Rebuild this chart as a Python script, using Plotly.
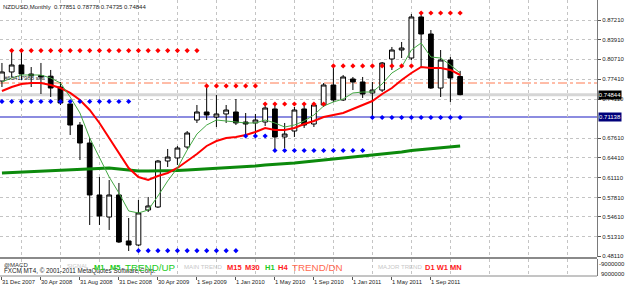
import plotly.graph_objects as go

# ---------------- data ----------------
symbol_title = "NZDUSD,Monthly"
bars = list(range(48))

opens = [0.7710, 0.7860, 0.7976, 0.7826, 0.7800, 0.7790, 0.7611, 0.7330, 0.6981, 0.6683,
         0.5822, 0.5457, 0.5822, 0.5060, 0.4993, 0.5573, 0.5623, 0.6385, 0.6435, 0.6617,
         0.7064, 0.7197, 0.7114, 0.7164, 0.7197, 0.7031, 0.7015, 0.7031, 0.7247, 0.6783,
         0.6882, 0.7247, 0.6998, 0.7313, 0.7644, 0.7396, 0.7744, 0.7694, 0.7512, 0.7561,
         0.8075, 0.8224, 0.8091, 0.8771, 0.8489, 0.7594, 0.8058, 0.77851]
highs = [0.8009, 0.8207, 0.8215, 0.7942, 0.8009, 0.7893, 0.7694, 0.7396, 0.7031, 0.6766,
         0.6120, 0.6070, 0.6021, 0.5441, 0.5739, 0.5789, 0.6402, 0.6584, 0.6634, 0.6882,
         0.7313, 0.7628, 0.7478, 0.7313, 0.7412, 0.7180, 0.7164, 0.7329, 0.7346, 0.7015,
         0.7280, 0.7346, 0.7346, 0.7677, 0.7976, 0.7810, 0.7777, 0.7777, 0.7694, 0.8025,
         0.8274, 0.8357, 0.8820, 0.8837, 0.8555, 0.8224, 0.8108, 0.78778]
lows = [0.7611, 0.7777, 0.7727, 0.7611, 0.7495, 0.7445, 0.7313, 0.6816, 0.6402, 0.5325,
        0.5325, 0.5242, 0.5027, 0.4894, 0.4977, 0.5540, 0.5607, 0.6286, 0.6319, 0.6584,
        0.7015, 0.7064, 0.6948, 0.7015, 0.6981, 0.6799, 0.6832, 0.6965, 0.6567, 0.6600,
        0.6783, 0.6932, 0.6948, 0.7280, 0.7363, 0.7379, 0.7561, 0.7429, 0.7097, 0.7528,
        0.7893, 0.8091, 0.8058, 0.7942, 0.7578, 0.7445, 0.7363, 0.74735]
closes = [0.7860, 0.7976, 0.7826, 0.7800, 0.7777, 0.7594, 0.7346, 0.6981, 0.6683, 0.5822,
          0.5474, 0.5822, 0.5043, 0.4993, 0.5524, 0.5640, 0.6385, 0.6451, 0.6600, 0.6849,
          0.7197, 0.7147, 0.7164, 0.7230, 0.7015, 0.6998, 0.7064, 0.7263, 0.6783, 0.6832,
          0.7230, 0.6981, 0.7313, 0.7644, 0.7396, 0.7777, 0.7694, 0.7495, 0.7561, 0.8009,
          0.8224, 0.8257, 0.8771, 0.8489, 0.7594, 0.8058, 0.7760, 0.74844]

ma_red = [0.7545, 0.7611, 0.7661, 0.7677, 0.7677, 0.7644, 0.7594, 0.7512, 0.7396, 0.7230,
          0.7015, 0.6766, 0.6534, 0.6269, 0.6120, 0.6070, 0.6137, 0.6186, 0.6269, 0.6385,
          0.6501, 0.6634, 0.6716, 0.6766, 0.6783, 0.6816, 0.6865, 0.6932, 0.6899, 0.6899,
          0.6932, 0.6998, 0.7048, 0.7114, 0.7147, 0.7180, 0.7247, 0.7313, 0.7379, 0.7495,
          0.7594, 0.7727, 0.7843, 0.7942, 0.7926, 0.7926, 0.7893, 0.7810]
ma_green = [0.7694, 0.7760, 0.7810, 0.7810, 0.7810, 0.7760, 0.7677, 0.7445, 0.7180, 0.6766,
            0.6451, 0.6120, 0.5855, 0.5557, 0.5524, 0.5573, 0.5805, 0.6054, 0.6269, 0.6567,
            0.6832, 0.6981, 0.7064, 0.7048, 0.7031, 0.7015, 0.7015, 0.7064, 0.7015, 0.6948,
            0.6981, 0.7048, 0.7147, 0.7296, 0.7363, 0.7412, 0.7512, 0.7528, 0.7528, 0.7661,
            0.7843, 0.7942, 0.8224, 0.8340, 0.8108, 0.8091, 0.7976, 0.7843]
ma_long = [0.6186, 0.6194, 0.6203, 0.6211, 0.6219, 0.6228, 0.6236, 0.6244, 0.6253, 0.6261,
           0.6269, 0.6269, 0.6253, 0.6236, 0.6219, 0.6219, 0.6219, 0.6219, 0.6228, 0.6236,
           0.6244, 0.6253, 0.6261, 0.6269, 0.6277, 0.6286, 0.6302, 0.6319, 0.6327, 0.6335,
           0.6352, 0.6369, 0.6385, 0.6402, 0.6418, 0.6435, 0.6451, 0.6468, 0.6484, 0.6501,
           0.6518, 0.6534, 0.6559, 0.6575, 0.6592, 0.6609, 0.6625, 0.6634]

res_dots = [None, 0.8215, 0.8215, 0.8215, 0.8215, 0.8215, 0.8215, 0.8215, 0.8215, 0.8215,
            0.8215, 0.8215, 0.8215, 0.8215, 0.8215, 0.8215, 0.8215, 0.8215, 0.8215, 0.8215,
            0.8215, 0.7628, 0.7628, 0.7628, 0.7628, 0.7628, 0.7628, 0.7329, 0.7329, 0.7329,
            0.7329, 0.7329, 0.7329, 0.7329, 0.7960, 0.7960, 0.7960, 0.7960, 0.7960, 0.7960,
            0.7960, 0.7960, 0.7960, 0.8837, 0.8837, 0.8837, 0.8837, 0.8837]
sup_dots = [0.7371, 0.7371, 0.7371, 0.7371, 0.7371, 0.7371, 0.7371, 0.7371, 0.7371, 0.7371,
            0.7371, 0.7371, 0.7371, 0.7371, 0.4900, 0.4900, 0.4900, 0.4900, 0.4900, 0.4900,
            0.4900, 0.4900, 0.4900, 0.4900, 0.4900, 0.6799, 0.6799, 0.6799, 0.6559, 0.6559,
            0.6559, 0.6559, 0.6559, 0.6559, 0.6559, 0.6559, 0.6559, 0.6559, 0.7106, 0.7106,
            0.7106, 0.7106, 0.7106, 0.7106, 0.7106, 0.7106, 0.7106, 0.7106]

date_labels = ["31 Dec 2007", "30 Apr 2008", "31 Aug 2008", "31 Dec 2008", "30 Apr 2009",
               "1 Sep 2009", "1 Jan 2010", "1 May 2010", "1 Sep 2010", "1 Jan 2011",
               "1 May 2011", "1 Sep 2011"]
date_label_bars = [0, 4, 8, 12, 16, 20, 24, 28, 32, 36, 40, 44]
grid_bars = [2, 6, 10, 14, 18, 22, 26, 30, 34, 38, 42, 46, 50, 54, 58]

price_ticks = [0.87210, 0.83910, 0.80710, 0.77410, 0.74110, 0.67610, 0.64410,
               0.61110, 0.57810, 0.54610, 0.51310, 0.48110]
price_tick_text = ["0.87210", "0.83910", "0.80710", "0.77410", "0.74110", "0.67610", "0.64410",
                   "0.61110", "0.57810", "0.54610", "0.51310", "0.48110"]

bid_price = 0.74844
level_line = 0.71138
sell_order_price = 0.7677
sell_order_label = "#65417988 sell"
macd_scale_labels = ["-9000000", "9000000"]

# ---------------- geometry helpers (pixels -> paper) ----------------
PLOT_W, PLOT_H = 602, 276
def px(x):
    return x / PLOT_W
def py(y):
    return 1 - y / PLOT_H

FONT = "Liberation Sans, Arial, sans-serif"
GRID = "#c4c4c4"

fig = go.Figure()

fig.add_trace(go.Candlestick(
    x=bars, open=opens, high=highs, low=lows, close=closes,
    increasing=dict(line=dict(color="black", width=1), fillcolor="white"),
    decreasing=dict(line=dict(color="black", width=1), fillcolor="black"),
    whiskerwidth=0, showlegend=False, hoverinfo="skip", xaxis="x", yaxis="y"))

fig.add_trace(go.Scatter(x=bars, y=ma_long, mode="lines",
                         line=dict(color="#0c8a0c", width=3), showlegend=False, hoverinfo="skip"))
fig.add_trace(go.Scatter(x=bars, y=ma_red, mode="lines",
                         line=dict(color="#ff0000", width=2), showlegend=False, hoverinfo="skip"))
fig.add_trace(go.Scatter(x=bars, y=ma_green, mode="lines",
                         line=dict(color="#44a844", width=1), showlegend=False, hoverinfo="skip"))
fig.add_trace(go.Scatter(x=bars, y=res_dots, mode="markers",
                         marker=dict(symbol="diamond", size=4, color="#ff0000"),
                         showlegend=False, hoverinfo="skip"))
fig.add_trace(go.Scatter(x=bars, y=sup_dots, mode="markers",
                         marker=dict(symbol="diamond", size=4, color="#0000ff"),
                         showlegend=False, hoverinfo="skip"))
# empty MACD sub-window
fig.add_trace(go.Scatter(x=[bars[0]], y=[0], mode="markers", marker=dict(opacity=0),
                         xaxis="x", yaxis="y2", showlegend=False, hoverinfo="skip"))

shapes = [
    dict(type="line", xref="paper", yref="y", x0=0, x1=1, y0=bid_price, y1=bid_price,
         line=dict(color="#d6d6d6", width=3), layer="below"),
    dict(type="line", xref="paper", yref="y", x0=0, x1=1, y0=level_line, y1=level_line,
         line=dict(color="#8c8ce0", width=2), layer="below"),
    dict(type="line", xref="paper", yref="y", x0=0, x1=1, y0=sell_order_price, y1=sell_order_price,
         line=dict(color="#ff7a50", width=1, dash="dashdot"), layer="below"),
    dict(type="line", xref="paper", yref="paper", x0=0, x1=1, y0=py(258), y1=py(258),
         line=dict(color="#8a8a8a", width=2)),
    dict(type="line", xref="paper", yref="paper", x0=0, x1=1, y0=0, y1=0,
         line=dict(color="#8a8a8a", width=1)),
]

annotations = []
def txt(x, y, text, size, color, bold=False, xref="paper", xanchor="left", **kw):
    if bold:
        text = "<b>" + text + "</b>"
    annotations.append(dict(x=x, y=y, xref=xref, yref="paper", text=text, showarrow=False,
                            xanchor=xanchor, yanchor="middle", borderpad=0,
                            font=dict(family=FONT, size=size, color=color), **kw))

title_text = "%s  %.5f %.5f %.5f %.5f" % (symbol_title, opens[-1], highs[-1], lows[-1], closes[-1])
txt(px(2), py(7), title_text, 6, "#222222")
txt(px(3), py(78), sell_order_label, 6, "#333333")

for b, lab in zip(date_label_bars, date_labels):
    txt(b, py(281.5), lab, 5.8, "#222222", xref="x", xshift=-1)

# MACD sub-window texts
txt(px(3), py(264.5), "@MACD", 6, "#333333")
txt(px(3), py(270.5), "FXCM MT4, \u00a9 2001-2011 MetaQuotes Software Corp.", 6.3, "#222222")
txt(px(67), py(266), "SIGNAL", 5.8, "#c8c8c8")
txt(px(94), py(267), "M1", 7.5, "#22cc22", bold=True)
txt(px(110), py(267), "M5", 7.5, "#22cc22", bold=True)
txt(px(125), py(267), "TREND/UP", 9.8, "#22cc22")
txt(px(185), py(266), "MAIN TREND", 6.1, "#c8c8c8")
txt(px(228), py(267), "M15", 7.5, "#ff1a1a", bold=True)
txt(px(246), py(267), "M30", 7.5, "#ff1a1a", bold=True)
txt(px(266), py(267), "H1", 7.5, "#22cc22", bold=True)
txt(px(279), py(267), "H4", 7.5, "#ff1a1a", bold=True)
txt(px(293), py(267), "TREND/DN", 9.8, "#ff6a50")
txt(px(380), py(266), "MAJOR TREND", 6.1, "#c8c8c8")
txt(px(428), py(267), "D1 W1 MN", 7.5, "#ff1a1a", bold=True)

txt(1, py(264), macd_scale_labels[0], 6, "#222222", xshift=1)
txt(1, py(274), macd_scale_labels[1], 6, "#222222", xshift=3)

# price boxes on the right scale
for price, bg in ((bid_price, "#000000"), (level_line, "#00007a")):
    annotations.append(dict(x=1, y=price, xref="paper", yref="y", text="%.5f" % price,
                            showarrow=False, xanchor="left", yanchor="middle", xshift=1,
                            bgcolor=bg, borderpad=0, width=22, height=8,
                            font=dict(family=FONT, size=6, color="white")))

fig.update_layout(
    width=625, height=287,
    margin=dict(l=0, r=23, t=0, b=11),
    paper_bgcolor="white", plot_bgcolor="white",
    hovermode=False, showlegend=False,
    shapes=shapes, annotations=annotations,
    xaxis=dict(domain=[0, 1], anchor="y2", range=[-0.2, 61.04],
               tickmode="array", tickvals=grid_bars, showticklabels=False, ticks="",
               showgrid=True, gridcolor=GRID, griddash="3px,3px", gridwidth=1,
               zeroline=False, showline=False, rangeslider=dict(visible=False),
               minor=dict(tickmode="array", tickvals=date_label_bars, ticks="outside",
                          ticklen=3, tickcolor="#555555", showgrid=False)),
    yaxis=dict(domain=[py(257), 1], anchor="x", side="right", range=[0.47946, 0.90523],
               tickmode="array", tickvals=price_ticks, ticktext=price_tick_text,
               ticks="outside", ticklen=3, tickcolor="#555555",
               tickfont=dict(family=FONT, size=6, color="#222222"),
               showgrid=True, gridcolor=GRID, griddash="3px,3px", gridwidth=1,
               zeroline=False, showline=True, linecolor="#7a7a7a", linewidth=1),
    yaxis2=dict(domain=[0, py(259)], anchor="x", side="right", range=[-1, 1],
                showticklabels=False, ticks="", showgrid=False, zeroline=False,
                showline=True, linecolor="#7a7a7a", linewidth=1),
)

fig.write_html("out.html")
